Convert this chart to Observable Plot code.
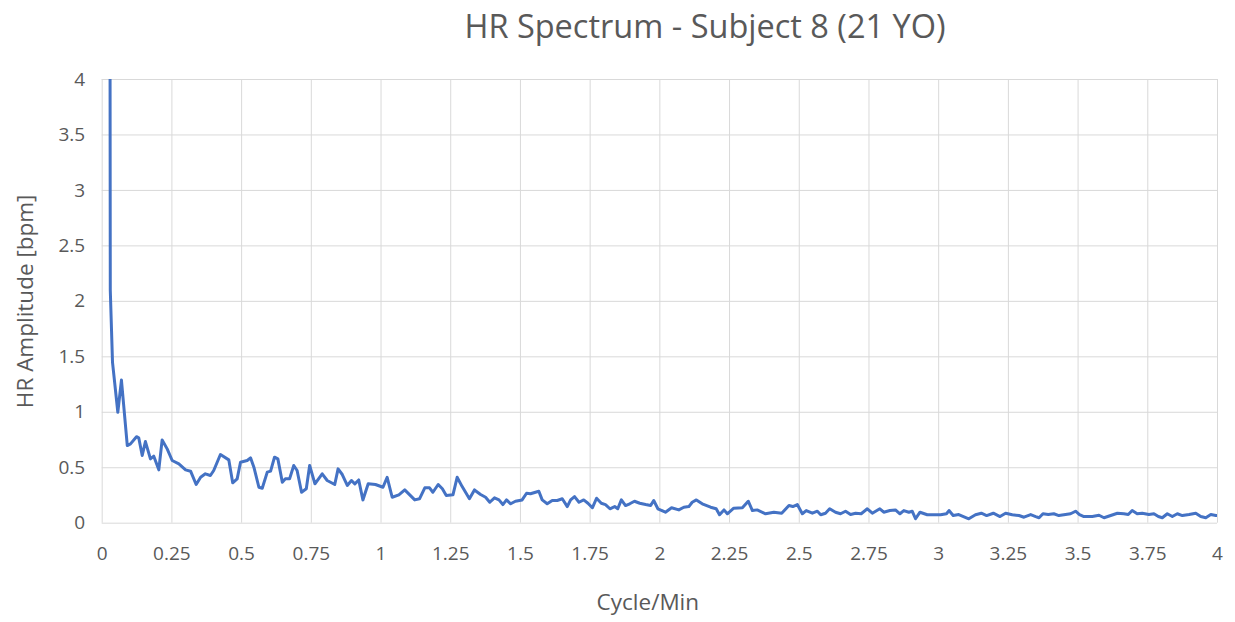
<!DOCTYPE html>
<html><head><meta charset="utf-8">
<script src="https://cdn.jsdelivr.net/npm/d3@7"></script>
<script src="https://cdn.jsdelivr.net/npm/@observablehq/plot@0.6"></script>
<style>
body{margin:0;background:#fff;font-family:"Open Sans",sans-serif;}
#wrap{position:relative;width:1235px;}
#title{height:58px;position:relative;}
#title span{position:absolute;left:705px;top:3px;transform:translateX(-50%);font-size:32.5px;color:#595959;white-space:nowrap;}
</style></head><body>
<div id="wrap"><div id="title"><span>HR Spectrum - Subject 8 (21 YO)</span></div><div id="chart"></div></div>
<script>
const freq = [0.025,0.029,0.037,0.056,0.069,0.090,0.1015,0.123,0.131,0.1435,0.155,0.173,0.185,0.203,0.215,0.233,0.251,0.275,0.299,0.317,0.337,0.353,0.370,0.388,0.400,0.424,0.454,0.468,0.484,0.496,0.520,0.532,0.544,0.562,0.574,0.592,0.604,0.618,0.630,0.646,0.657,
0.672,0.687,0.699,0.715,0.732,0.744,0.763,0.789,0.807,0.834,0.846,0.861,0.879,0.894,0.906,0.920,0.935,0.954,0.980,1.007,1.022,1.040,1.064,1.085,1.121,1.138,1.157,1.174,1.186,1.205,1.220,1.234,1.258,1.273,1.291,1.317,
1.335,1.357,1.375,1.390,1.407,1.423,1.437,1.450,1.465,1.482,1.506,1.522,1.536,1.554,1.566,1.578,1.596,1.614,1.632,1.650,1.668,1.680,1.694,1.710,1.727,1.742,1.758,1.773,1.790,1.805,1.821,1.838,1.849,1.862,1.877,1.892,1.909,1.928,1.949,1.967,1.978,1.993,
2.020,2.042,2.068,2.086,2.104,2.116,2.131,2.152,2.182,2.202,2.214,2.230,2.242,2.265,2.296,2.317,2.332,2.349,2.379,2.409,2.437,2.463,2.477,2.493,2.511,2.525,2.547,2.565,2.577,2.594,2.609,2.630,2.648,
2.666,2.684,2.702,2.722,2.744,2.762,2.789,2.803,2.825,2.845,2.861,2.875,2.893,2.905,2.917,2.933,2.959,3.007,3.028,3.037,3.052,3.072,3.108,3.132,3.153,3.172,3.196,3.220,3.240,3.264,3.288,3.306,
3.330,3.348,3.360,3.374,3.393,3.413,3.431,3.455,3.473,3.491,3.505,3.521,3.551,3.575,3.593,3.617,3.641,3.664,3.680,3.694,3.712,3.730,3.754,3.772,3.788,3.802,3.820,3.838,3.856,3.874,3.898,3.922,3.940,3.958,3.976,3.994,4.0];
const amp = [12,2.1,1.45,1.0,1.29,0.70,0.715,0.78,0.77,0.61,0.736,0.58,0.604,0.481,0.751,0.67,0.565,0.535,0.481,0.469,0.349,0.414,0.445,0.43,0.475,0.619,0.571,0.364,0.40,0.55,0.565,0.589,0.505,0.324,0.315,0.46,0.469,0.595,0.58,0.369,0.40,
0.40,0.52,0.475,0.279,0.31,0.52,0.355,0.445,0.385,0.349,0.49,0.439,0.34,0.385,0.355,0.39,0.21,0.355,0.349,0.324,0.414,0.234,0.256,0.30,0.21,0.22,0.319,0.319,0.279,0.349,0.31,0.25,0.256,0.414,0.33,0.22,
0.30,0.259,0.234,0.189,0.229,0.21,0.168,0.21,0.175,0.198,0.21,0.27,0.265,0.279,0.288,0.21,0.175,0.205,0.205,0.22,0.15,0.21,0.24,0.189,0.21,0.18,0.139,0.225,0.18,0.168,0.13,0.15,0.13,0.21,0.159,0.175,0.198,0.18,0.168,0.159,0.205,0.13,
0.099,0.139,0.12,0.144,0.15,0.189,0.21,0.175,0.144,0.13,0.076,0.12,0.085,0.135,0.139,0.198,0.114,0.12,0.085,0.099,0.09,0.159,0.15,0.168,0.085,0.114,0.09,0.108,0.076,0.09,0.13,0.099,0.085,
0.108,0.078,0.09,0.085,0.13,0.09,0.13,0.099,0.114,0.12,0.085,0.114,0.099,0.108,0.04,0.099,0.076,0.076,0.085,0.114,0.069,0.078,0.04,0.076,0.09,0.069,0.09,0.06,0.09,0.076,0.069,0.054,
0.078,0.06,0.049,0.085,0.078,0.085,0.069,0.078,0.085,0.108,0.078,0.06,0.06,0.072,0.049,0.069,0.09,0.085,0.078,0.114,0.085,0.09,0.078,0.085,0.06,0.049,0.085,0.06,0.085,0.069,0.078,0.09,0.06,0.049,0.078,0.069,0.07];
const xTicks = [0,0.25,0.5,0.75,1,1.25,1.5,1.75,2,2.25,2.5,2.75,3,3.25,3.5,3.75,4];
const yTicks = [0,0.5,1,1.5,2,2.5,3,3.5,4];
const xLabel = "Cycle/Min";
const yLabel = "HR Amplitude [bpm]";

const data = freq.map((f, i) => ({f, a: amp[i]}));
const grid = "#d9d9d9";
const txt = "#595959";

const chart = Plot.plot({
  width: 1235,
  height: 564,
  marginTop: 21,
  marginBottom: 99.3,
  marginLeft: 101.7,
  marginRight: 18,
  style: {fontFamily: "'Open Sans', sans-serif", color: txt, background: "#fff"},
  x: {domain: [0, 4]},
  y: {domain: [0, 4]},
  marks: [
    Plot.ruleX(xTicks, {stroke: grid, strokeWidth: 1}),
    Plot.ruleY(yTicks, {stroke: grid, strokeWidth: 1}),
    Plot.axisX(xTicks, {tickSize: 0, tickPadding: 23, fontSize: 19, fill: txt, label: null, tickFormat: d => String(d)}),
    Plot.axisY(yTicks, {tickSize: 0, tickPadding: 17, fontSize: 19, fill: txt, label: null, tickFormat: d => String(d)}),
    Plot.line(data, {x: "f", y: "a", stroke: "#4472c4", strokeWidth: 3, clip: true, strokeLinejoin: "round"}),
    Plot.text([xLabel], {text: d => d, frameAnchor: "bottom", textAnchor: "middle", lineAnchor: "middle", dx: -12, dy: 80, fontSize: 22.5, fill: txt}),
    Plot.text([yLabel], {text: d => d, frameAnchor: "left", textAnchor: "middle", lineAnchor: "middle", rotate: -90, dx: -76, fontSize: 22.5, fill: txt})
  ]
});
document.getElementById("chart").appendChild(chart);
</script>
</body></html>
